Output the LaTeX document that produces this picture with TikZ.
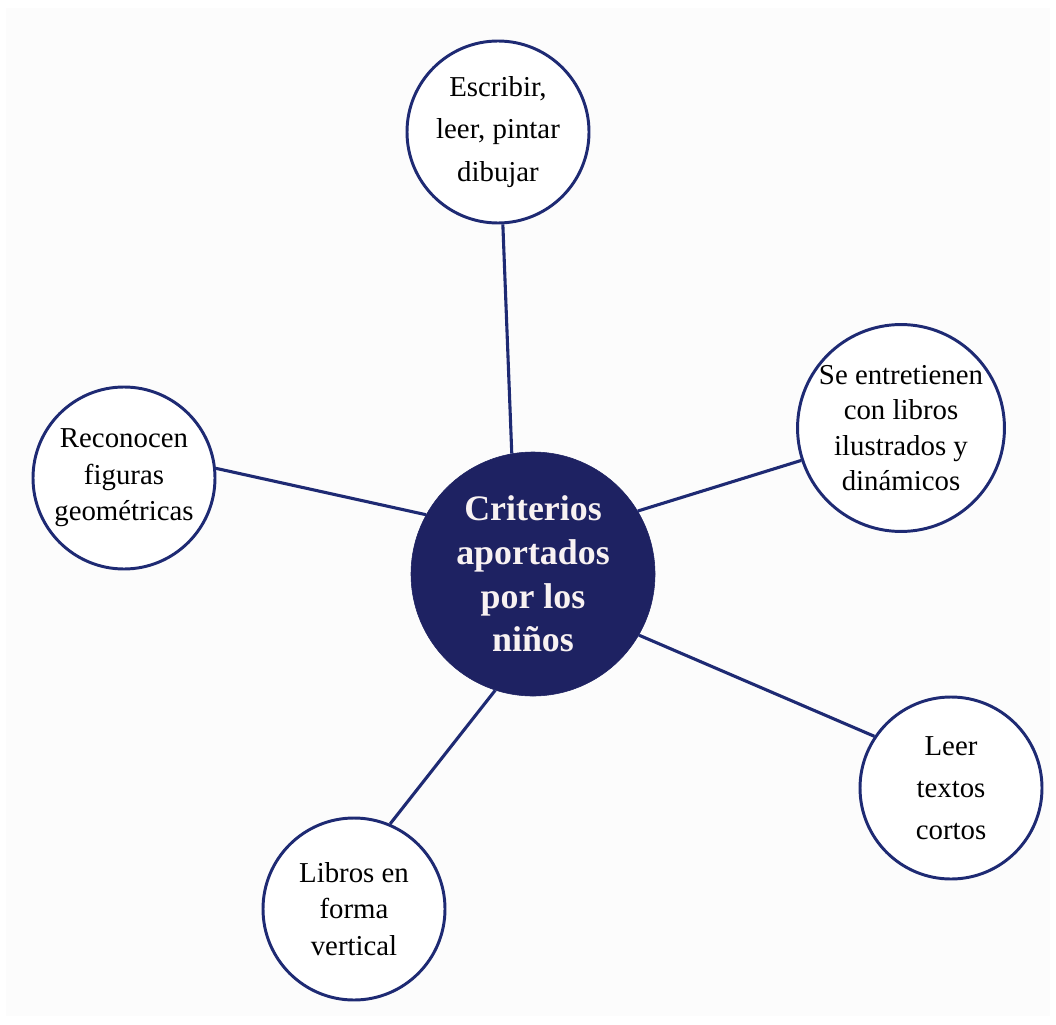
\documentclass[tikz,border=0pt]{standalone}
\usepackage{fontspec}
\setmainfont{Liberation Serif}
\begin{document}
\begin{tikzpicture}[x=0.025cm,y=-0.025cm]
  % colors
  \definecolor{kNavy}{RGB}{30,34,98}
  \definecolor{kRim}{RGB}{30,42,115}
  \definecolor{kPaper}{RGB}{252,252,252}
  \definecolor{kText}{RGB}{248,242,242}
  \tikzset{
    hub/.style={circle,fill=kNavy,draw=kNavy,inner sep=0pt,minimum size=244*0.025cm,
      align=center,text=kText,font=\fontsize{25.5}{31}\selectfont\bfseries},
    leaf/.style={circle,draw=kRim,line width=2.1pt,fill=white,inner sep=0pt,
      minimum size=182*0.025cm,align=center,font=\fontsize{20.5}{26}\selectfont},
    wide/.style={font=\fontsize{20.5}{30}\selectfont},
    link/.style={draw=kRim,line width=2.2pt}
  }
  % background
  \useasboundingbox (0,0) rectangle (1056,1024);
  \fill[kPaper] (6,8) rectangle (1050,1016);
  % nodes
  \node[hub] (crit) at (533,574) {Criterios\\aportados\\por los\\niños};
  \node[leaf,wide] (escribir) at (498,132) {Escribir,\\leer, pintar\\dibujar};
  \node[leaf,minimum size=206*0.025cm,font=\fontsize{20.5}{25.3}\selectfont] (entretienen) at (901,428) {Se entretienen\\con libros\\ilustrados y\\dinámicos};
  \node[leaf] (reconocen) at (124,478) {Reconocen\\figuras\\geométricas};
  \node[leaf,wide] (leer) at (951,788) {Leer\\textos\\cortos};
  \node[leaf] (libros) at (354,909) {Libros en\\forma\\vertical};
  % links
  \foreach \a/\n/\b in {100/escribir/-87.5, 31.4/entretienen/198.6, -30.9/leer/146.7, -108/libros/67, 151.8/reconocen/6.9}
    \draw[link] (crit.\a) -- (\n.\b);
\end{tikzpicture}
\end{document}
